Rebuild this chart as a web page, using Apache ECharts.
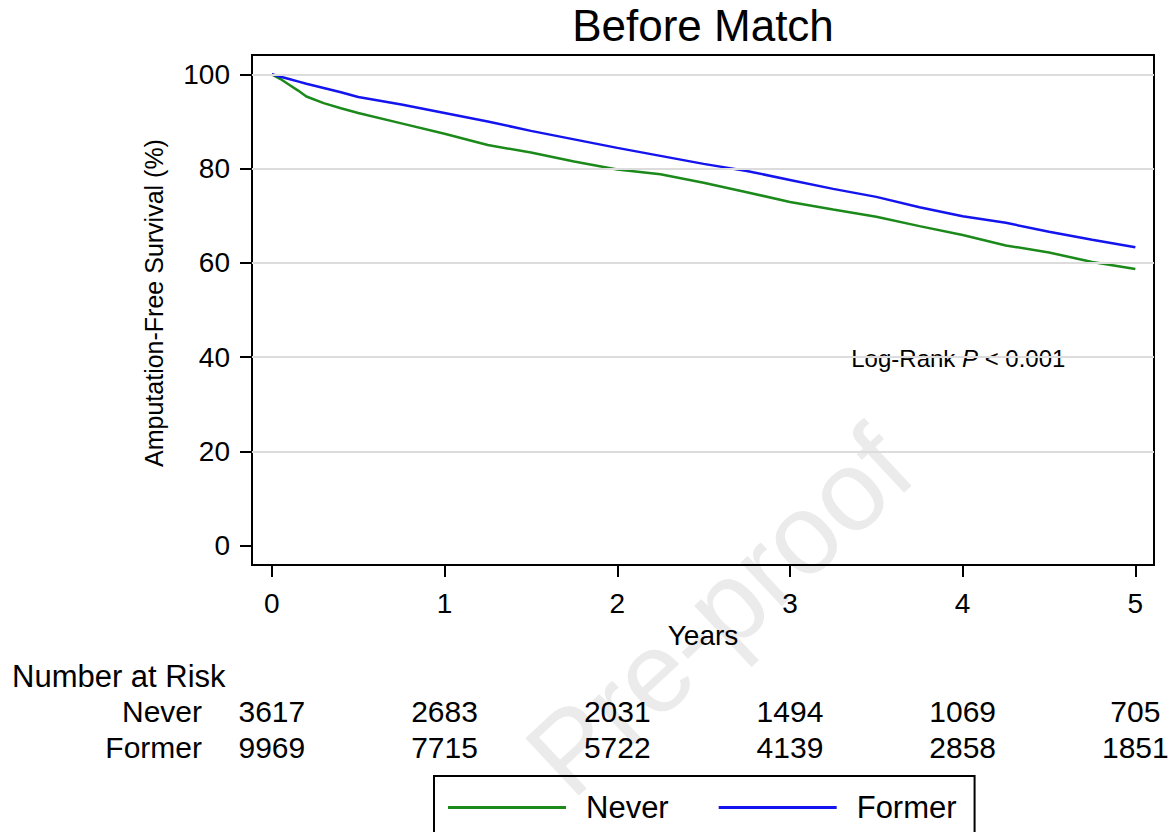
<!DOCTYPE html>
<html>
<head>
<meta charset="utf-8">
<script src="https://cdn.jsdelivr.net/npm/echarts@6/dist/echarts.min.js"></script>
<style>
    html, body { margin: 0; padding: 0; background: #fff; }
    #chart { width: 1175px; height: 832px; }
</style>
</head>
<body>
<div id="chart"></div>
<script>
// Kaplan-Meier curves (years, % surviving)
const years      = [0, 0.05, 0.1, 0.15, 0.2, 0.3, 0.4, 0.5, 0.75, 1, 1.25, 1.5, 1.75, 2, 2.25, 2.5, 2.75, 3, 3.25, 3.5, 3.75, 4, 4.25, 4.5, 4.75, 5];
const neverSurv  = [100, 99.0, 97.8, 96.6, 95.3, 93.9, 92.8, 91.8, 89.6, 87.4, 85.0, 83.4, 81.5, 79.8, 78.8, 77.0, 75.0, 72.9, 71.3, 69.8, 67.8, 65.9, 63.7, 62.2, 60.2, 58.7];
const formerSurv = [100, 99.5, 99.0, 98.5, 98.0, 97.1, 96.2, 95.2, 93.6, 91.8, 90.0, 88.0, 86.2, 84.4, 82.7, 81.0, 79.5, 77.6, 75.7, 74.0, 71.8, 69.9, 68.5, 66.6, 64.9, 63.3];

const xTicks = [0, 1, 2, 3, 4, 5];
const yTicks = [0, 20, 40, 60, 80, 100];
const gridValues = [20, 40, 60, 80, 100];

// number at risk table
const riskGroups = ['Never', 'Former'];
const riskNever  = [3617, 2683, 2031, 1494, 1069, 705];
const riskFormer = [9969, 7715, 5722, 4139, 2858, 1851];

const FONT = '"Liberation Sans", Arial, sans-serif';
const GREEN = '#1b8a1b';
const BLUE = '#1414ee';

const chart = echarts.init(document.getElementById('chart'), null, { renderer: 'svg' });

const toPairs = (xs, ys) => xs.map((x, i) => [x, ys[i]]);

chart.setOption({
    backgroundColor: '#fff',
    animation: false,
    textStyle: { fontFamily: FONT, color: '#000' },
    grid: {
        left: 252, top: 55, width: 902, height: 510,
        show: true, borderColor: '#000', borderWidth: 2,
        backgroundColor: 'transparent'
    },
    xAxis: {
        type: 'value',
        min: -0.115, max: 5.108,
        axisLine: { show: false, onZero: false },
        axisTick: { show: true, inside: false, customValues: xTicks, length: 12, lineStyle: { color: '#000', width: 2 } },
        axisLabel: { customValues: xTicks, fontSize: 28, color: '#000', margin: 24, fontFamily: FONT, lineHeight: 28 },
        splitLine: { show: false },
        name: 'Years', nameLocation: 'middle', nameGap: 55,
        nameTextStyle: { fontSize: 28, color: '#000', fontFamily: FONT, lineHeight: 28 }
    },
    yAxis: {
        type: 'value',
        min: -4.1, max: 104.1,
        axisLine: { show: false, onZero: false },
        axisTick: { show: true, inside: false, customValues: yTicks, length: 12, lineStyle: { color: '#000', width: 2 } },
        axisLabel: { customValues: yTicks, fontSize: 28, color: '#000', margin: 22, fontFamily: FONT },
        splitLine: { show: false }
    },
    legend: {
        data: riskGroups,
        left: 434, top: 776,
        orient: 'horizontal',
        padding: [16, 18, 16, 14],
        borderColor: '#000', borderWidth: 2,
        icon: 'rect', itemWidth: 118, itemHeight: 3, itemGap: 50,
        selectedMode: false,
        textStyle: { fontSize: 31, color: '#000', fontFamily: FONT, padding: [0, 0, 0, 15] }
    },
    series: [
        {
            name: 'gridlines', type: 'line', data: [], z: 1, silent: true,
            markLine: {
                silent: true, symbol: ['none', 'none'], animation: false,
                label: { show: false },
                lineStyle: { color: '#dcdcdc', width: 2, type: 'solid' },
                data: gridValues.map(v => ({ yAxis: v }))
            }
        },
        {
            name: 'Never', type: 'line', z: 3,
            data: toPairs(years, neverSurv),
            showSymbol: false, symbol: 'none',
            lineStyle: { color: GREEN, width: 2.5 },
            itemStyle: { color: GREEN }
        },
        {
            name: 'Former', type: 'line', z: 3,
            data: toPairs(years, formerSurv),
            showSymbol: false, symbol: 'none',
            lineStyle: { color: BLUE, width: 2.5 },
            itemStyle: { color: BLUE }
        }
    ]
});

// texts placed from the chart's own scales
const px = (x, y) => chart.convertToPixel({ gridIndex: 0 }, [x, y]);
const boxCenter = 252 + 902 / 2;
const rowY = [711.7, 747];
const riskRows = [riskNever, riskFormer];
const notePos = px(3.355, 40);

const graphics = [
    {
        type: 'text', z: -5, x: 719, y: 611, rotation: 0.75,
        style: { text: 'Pre-proof', fontSize: 114, fontFamily: FONT, fill: '#ebebeb', align: 'center', verticalAlign: 'middle' }
    },
    {
        type: 'text', x: boxCenter, y: 25,
        style: { text: 'Before Match', fontSize: 44, fontFamily: FONT, fill: '#000', align: 'center', verticalAlign: 'middle' }
    },
    {
        type: 'text', x: 154, y: 303, rotation: Math.PI / 2,
        style: { text: 'Amputation-Free Survival (%)', fontSize: 25, fontFamily: FONT, fill: '#000', align: 'center', verticalAlign: 'middle' }
    },
    {
        type: 'text', x: notePos[0], y: notePos[1] + 1,
        style: {
            text: '{a|Log-Rank }{b|P}{a| < 0.001}',
            align: 'left', verticalAlign: 'middle',
            rich: {
                a: { fontSize: 24, fontFamily: FONT, fill: '#000' },
                b: { fontSize: 24, fontFamily: FONT, fill: '#000', fontStyle: 'italic' }
            }
        }
    },
    {
        type: 'text', x: 12, y: 676,
        style: { text: 'Number at Risk', fontSize: 31, fontFamily: FONT, fill: '#000', align: 'left', verticalAlign: 'middle' }
    }
];

riskGroups.forEach((g, r) => {
    graphics.push({
        type: 'text', x: 202, y: rowY[r],
        style: { text: g, fontSize: 30, fontFamily: FONT, fill: '#000', align: 'right', verticalAlign: 'middle' }
    });
    riskRows[r].forEach((n, i) => {
        graphics.push({
            type: 'text', x: px(xTicks[i], 0)[0], y: rowY[r],
            style: { text: String(n), fontSize: 30, fontFamily: FONT, fill: '#000', align: 'center', verticalAlign: 'middle' }
        });
    });
});

chart.setOption({ graphic: graphics });
</script>
</body>
</html>
